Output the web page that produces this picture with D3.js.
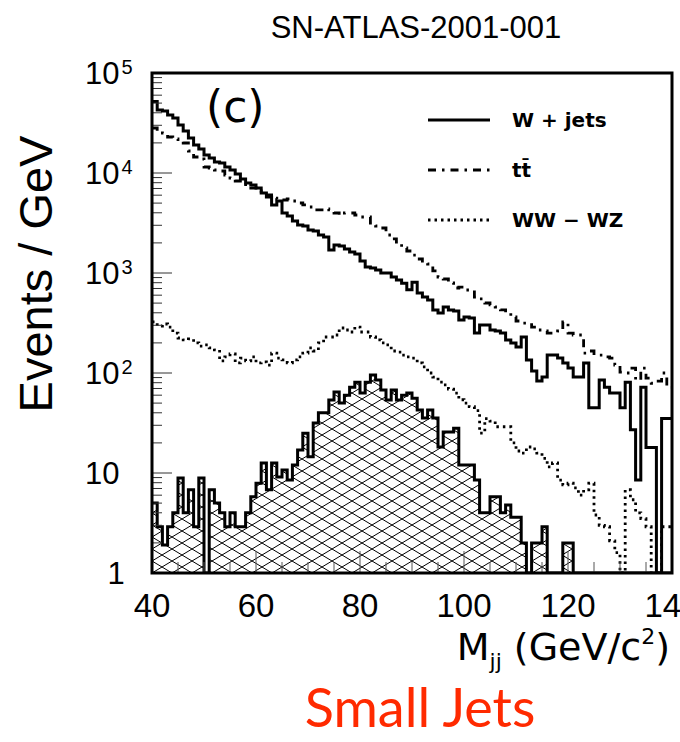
<!DOCTYPE html>
<html><head><meta charset="utf-8">
<script src="https://cdn.jsdelivr.net/npm/d3@7"></script>
<style>body{margin:0;background:#fff}</style>
</head><body>
<svg id="chart" width="680" height="742"></svg>
<script>
// Bin lower edges (GeV), 1 GeV bins from 40 to 140
const massBins = [40,41,42,43,44,45,46,47,48,49,50,51,52,53,54,55,56,57,58,59,
 60,61,62,63,64,65,66,67,68,69,70,71,72,73,74,75,76,77,78,79,
 80,81,82,83,84,85,86,87,88,89,90,91,92,93,94,95,96,97,98,99,
 100,101,102,103,104,105,106,107,108,109,110,111,112,113,114,115,116,117,118,119,
 120,121,122,123,124,125,126,127,128,129,130,131,132,133,134,135,136,137,138,139];

// W + jets (events / GeV)
const wJets = [52000,42700,41700,38000,35500,30200,26300,22400,19000,17400,
 15100,14100,12900,12600,11500,10700,9770,8710,7940,7590,
 7080,6310,5750,4790,5250,3980,3720,3310,3020,2950,
 2690,2630,2400,2290,1700,1900,1860,1740,1620,1550,
 1320,1150,1120,1070,1000,1000,910,850,790,680,
 810,630,575,537,427,398,457,427,417,339,
 363,355,251,302,302,269,263,251,214,200,
 182,229,135,105,83,91,151,151,141,126,
 112,91,91,126,45,45,85,72,63,63,
 45,81,27,8.5,72,18,18,0,35,35];

// t tbar
const ttbar = [28200,26300,25100,22900,21900,20900,19950,16600,14450,13800,
 11480,11220,10720,10470,9550,8910,8320,7940,7410,7080,
 6610,6310,6030,5620,5500,5370,5500,5250,5010,4790,
 4570,4270,4270,4370,4270,3980,3800,3980,3980,3800,
 3630,3630,3160,2950,2820,2400,2190,2040,1780,1660,
 1510,1380,1260,1230,1050,912,871,794,708,724,
 676,676,575,550,501,479,457,427,398,363,
 331,316,316,288,269,263,251,251,263,324,
 251,240,240,158,166,151,151,145,141,120,
 102,100,112,85,112,89,79,83,100,72];

// WW - WZ
const wwwz = [324,295,309,288,251,224,214,219,200,186,
 191,178,170,132,145,155,126,141,132,145,
 126,129,120,158,141,135,126,135,145,158,
 178,166,200,229,229,240,282,269,257,288,
 257,257,229,214,200,191,166,162,151,145,
 141,126,115,100,91,81,76,69,63,54,
 50,46,42,25,35,33,29,29,29,20,
 16.6,15.8,18.2,17.4,15.8,14,11.5,12.6,8.5,7.6,
 7.9,7.1,6.0,6.8,7.9,3.8,3.0,2.9,2.1,1.6,
 0,6.8,5.4,4.0,3.5,2.9,0,0,2.9,2.9];

// Hatched signal
const signal = [5.0,2.9,1.9,2.9,4.0,8.9,4.0,6.8,2.9,8.9,
 0,6.8,5.0,4.0,2.9,4.0,2.9,2.9,4.0,5.8,
 7.9,12.6,6.8,12.6,9.1,10.7,8.5,12,17,25,
 14.5,31.6,40,40,53.7,64.6,50,60,72,81,
 63,81,95.5,85,67.6,53.7,67.6,53.7,60,63,
 56,42.7,35.5,42.7,35.5,18.2,25.7,25.7,28,12,
 12,12,8.5,4.0,4.0,5.8,5.8,4.0,4.8,3.6,
 3.6,2.0,0,2.0,2.0,2.9,0,0,0,2.0,
 2.0,0,0,0,0,0,0,0,0,0,
 0,0,0,0,0,0,0,0,0,0];

const xTicks = [40,60,80,100,120,140];
const yDecades = [1,10,100,1000,10000,100000];
const legendLabels = ["W + jets","tt\u0304","WW \u2212 WZ"];

const svg = d3.select("#chart");
const L=152, R=672, T=73, B=573;
const x = d3.scaleLinear().domain([40,140]).range([L,R]);
const y = d3.scaleLog().domain([1,1e5]).range([B,T]).clamp(true);
const yv = v => y(Math.max(v,1));

// hatch pattern
const defs = svg.append("defs");
const pat = defs.append("pattern").attr("id","hatch").attr("patternUnits","userSpaceOnUse")
  .attr("width",20).attr("height",12).attr("x",L).attr("y",B);
pat.append("path").attr("d","M0,0L20,12M0,12L20,0M-2,1.2L2,-1.2M18,13.2L22,10.8M-2,10.8L2,13.2M18,-1.2L22,1.2")
  .attr("stroke","#000").attr("stroke-width",1).attr("fill","none");
defs.append("clipPath").attr("id","plotclip").append("rect")
  .attr("x",L).attr("y",T).attr("width",R-L).attr("height",B-T);

function stepPath(vals){
  let d="";
  vals.forEach((v,i)=>{
    const x0=x(massBins[i]), x1=x(massBins[i]+1), yy=yv(v);
    d += (i===0?"M":"L")+x0+","+yy+"L"+x1+","+yy;
  });
  return d;
}
function areaPath(vals){
  return "M"+x(40)+","+y(1)+stepPath(vals).replace(/^M/,"L")+"L"+x(140)+","+y(1)+"Z";
}

const g = svg.append("g").attr("clip-path","url(#plotclip)");
g.append("path").attr("d",areaPath(signal)).attr("fill","url(#hatch)").attr("stroke","none");
g.append("path").attr("d",stepPath(wwwz)).attr("fill","none").attr("stroke","#000")
  .attr("stroke-width",2.8).attr("stroke-dasharray","2.5,4");
g.append("path").attr("d",stepPath(ttbar)).attr("fill","none").attr("stroke","#000")
  .attr("stroke-width",2.8).attr("stroke-dasharray","8,6,2.5,6");
g.append("path").attr("d",stepPath(wJets)).attr("fill","none").attr("stroke","#000")
  .attr("stroke-width",3).attr("stroke-linejoin","miter");
g.append("path").attr("d",stepPath(signal)).attr("fill","none").attr("stroke","#000")
  .attr("stroke-width",3).attr("stroke-linejoin","miter");

// ticks: y (log, inside left)
const yTickVals = y.ticks();
svg.append("g").selectAll("line").data(yTickVals).join("line")
  .attr("x1",L).attr("x2",d=>L+(yDecades.includes(d)?20:10))
  .attr("y1",d=>y(d)).attr("y2",d=>y(d)).attr("stroke","#333").attr("stroke-width",1);
// x ticks (inside bottom), every 5 GeV
const xMinor = d3.range(45,140,5);
svg.append("g").selectAll("line").data(xMinor).join("line")
  .attr("x1",d=>x(d)).attr("x2",d=>x(d)).attr("y1",B)
  .attr("y2",d=>B-(xTicks.includes(d)?22:11)).attr("stroke","#555").attr("stroke-width",1);

// frame
svg.append("rect").attr("x",L).attr("y",T).attr("width",R-L).attr("height",B-T)
  .attr("fill","none").attr("stroke","#000").attr("stroke-width",3);

// x tick labels
svg.append("g").selectAll("text").data(xTicks).join("text")
  .attr("x",d=>x(d)).attr("y",617).attr("text-anchor","middle")
  .attr("font-family","Liberation Sans, Arial, sans-serif").attr("font-size",33)
  .text(d=>d);

// y tick labels
const yl = svg.append("g").attr("font-family","Liberation Sans, Arial, sans-serif");
yDecades.forEach(d=>{
  const n = Math.round(Math.log10(d));
  if(n===0){
    yl.append("text").attr("x",116).attr("y",y(d)+11).attr("text-anchor","middle").attr("font-size",31).text("1");
  } else if(n===1){
    yl.append("text").attr("x",85).attr("y",y(d)+11).attr("font-size",31).text("10");
  } else {
    const t = yl.append("text").attr("x",85).attr("y",y(d)+11).attr("font-size",31);
    t.append("tspan").text("10");
    t.append("tspan").attr("font-size",20).attr("dy",-10).attr("dx",2).text(n);
  }
});

// axis titles
svg.append("text").attr("transform","translate(52,274) rotate(-90)").attr("text-anchor","middle")
  .attr("font-family","Liberation Sans, Arial, sans-serif").attr("font-size",47).text("Events / GeV");
const xt = svg.append("text").attr("x",670).attr("y",660).attr("text-anchor","end")
  .attr("font-family","DejaVu Sans, sans-serif").attr("font-size",38);
xt.append("tspan").text("M");
xt.append("tspan").attr("font-size",22).attr("dy",9).text("jj");
xt.append("tspan").attr("dy",-9).text(" (GeV/c");
xt.append("tspan").attr("font-size",22).attr("dy",-16).text("2");
xt.append("tspan").attr("dy",16).text(")");

// (c)
svg.append("text").attr("x",206).attr("y",122).attr("font-family","DejaVu Sans, sans-serif")
  .attr("font-size",44).text("(c)");

// title
svg.append("text").attr("x",416).attr("y",38).attr("text-anchor","middle")
  .attr("font-family","Liberation Sans, Arial, sans-serif").attr("font-size",31).text("SN-ATLAS-2001-001");

// legend
const legStyles = [{dash:null,w:3},{dash:"8,6,2.5,6",w:2.8},{dash:"2.5,4",w:2.8}];
const legY = [120,170,220];
legendLabels.forEach((lab,i)=>{
  const ln = svg.append("line").attr("x1",428).attr("x2",490).attr("y1",legY[i]).attr("y2",legY[i])
    .attr("stroke","#000").attr("stroke-width",legStyles[i].w);
  if(legStyles[i].dash) ln.attr("stroke-dasharray",legStyles[i].dash);
  svg.append("text").attr("x",512).attr("y",legY[i]+7).attr("font-family","DejaVu Sans, sans-serif")
    .attr("font-weight","bold").attr("font-size",20).text(lab);
});

// bottom caption
svg.append("text").attr("x",420).attr("y",727).attr("text-anchor","middle")
  .attr("font-family","Lato, sans-serif").attr("font-size",54).attr("fill","#ff2a00").text("Small Jets");
</script>
</body></html>
